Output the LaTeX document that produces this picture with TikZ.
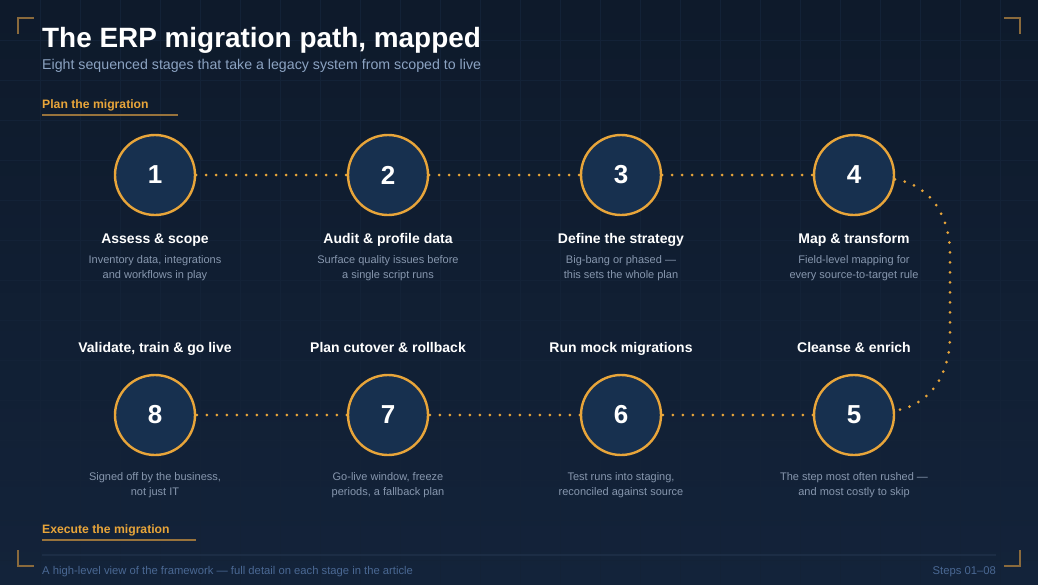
\documentclass[tikz,border=0pt]{standalone}
\usepackage{fontspec}
\setmainfont{Liberation Sans}
\definecolor{bgtop}{HTML}{0E1A2B}
\definecolor{bgbot}{HTML}{13233A}
\definecolor{gridc}{HTML}{132237}
\definecolor{ringc}{HTML}{E8A53A}
\definecolor{discc}{HTML}{17304F}
\definecolor{bracketc}{HTML}{8A6A3C}
\definecolor{subc}{HTML}{8CA3C2}
\definecolor{notec}{HTML}{8797AE}
\definecolor{footc}{HTML}{4A6893}
\definecolor{rulec}{HTML}{1C2D45}
\begin{document}
\begin{tikzpicture}[x=1pt, y=-1pt,
  stepnode/.style={circle,draw=ringc,line width=2.4pt,fill=discc,minimum size=80pt,inner sep=0pt,
    text=white,font=\fontsize{26}{26}\selectfont\bfseries},
  steptitle/.style={anchor=base,text=white,font=\fontsize{14}{16}\selectfont\bfseries},
  stepnote/.style={text=notec,align=center,font=\fontsize{11}{15}\selectfont},
  link/.style={ringc,line width=3pt,line cap=round,dash pattern=on 0pt off 10pt},
  bracket/.style={bracketc,line width=2pt},
  phase/.style={anchor=base west,text=ringc,font=\fontsize{12.2}{14}\selectfont\bfseries,inner sep=0pt}]
\useasboundingbox (0,0) rectangle (1038,584);
% background and faint grid
\shade[top color=bgtop,bottom color=bgbot] (0,0) rectangle (1038,584);
\foreach \gx in {40,80,...,1000} \draw[gridc,line width=1pt] (\gx,0) -- (\gx,584);
\foreach \gy in {40,80,...,560} \draw[gridc,line width=1pt] (0,\gy) -- (1038,\gy);
% corner brackets
\draw[bracket] (18,34) -- (18,18) -- (34,18);
\draw[bracket] (1004,18) -- (1020,18) -- (1020,34);
\draw[bracket] (18,550) -- (18,566) -- (34,566);
\draw[bracket] (1004,566) -- (1020,566) -- (1020,550);
% heading
\node[anchor=base west,inner sep=0pt,text=white,font=\fontsize{27.9}{30}\selectfont\bfseries] (title) at (42,47) {The ERP migration path, mapped};
\node[anchor=base west,inner sep=0pt,text=subc,font=\fontsize{14.2}{16}\selectfont] (subtitle) at (42,69) {Eight sequenced stages that take a legacy system from scoped to live};
\node[phase] (plan) at (42,108) {Plan the migration};
\draw[bracketc!85!ringc,line width=2pt] (42,115) -- (178,115);
% steps
\node[stepnode] (s1) at (155,175) {1};
\node[stepnode] (s2) at (388,175) {2};
\node[stepnode] (s3) at (621,175) {3};
\node[stepnode] (s4) at (854,175) {4};
\node[stepnode] (s5) at (854,415) {5};
\node[stepnode] (s6) at (621,415) {6};
\node[stepnode] (s7) at (388,415) {7};
\node[stepnode] (s8) at (155,415) {8};
\node[steptitle] (t1) at (155,243) {Assess \& scope};
\node[steptitle] (t2) at (388,243) {Audit \& profile data};
\node[steptitle] (t3) at (621,243) {Define the strategy};
\node[steptitle] (t4) at (854,243) {Map \& transform};
\node[steptitle] (t5) at (854,352) {Cleanse \& enrich};
\node[steptitle] (t6) at (621,352) {Run mock migrations};
\node[steptitle] (t7) at (388,352) {Plan cutover \& rollback};
\node[steptitle] (t8) at (155,352) {Validate, train \& go live};
\node[stepnote] (n1) at (155,268) {Inventory data, integrations\\and workflows in play};
\node[stepnote] (n2) at (388,268) {Surface quality issues before\\a single script runs};
\node[stepnote] (n3) at (621,268) {Big-bang or phased —\\this sets the whole plan};
\node[stepnote] (n4) at (854,268) {Field-level mapping for\\every source-to-target rule};
\node[stepnote] (n5) at (854,485) {The step most often rushed —\\and most costly to skip};
\node[stepnote] (n6) at (621,485) {Test runs into staging,\\reconciled against source};
\node[stepnote] (n7) at (388,485) {Go-live window, freeze\\periods, a fallback plan};
\node[stepnote] (n8) at (155,485) {Signed off by the business,\\not just IT};
% path between steps
\draw[link] (s1) -- (s2);
\draw[link] (s2) -- (s3);
\draw[link] (s3) -- (s4);
\draw[link] (s4.-6) .. controls (930,185) and (950,215) .. (950,255) -- (950,335) .. controls (950,375) and (930,405) .. (s5.6);
\draw[link] (s5) -- (s6);
\draw[link] (s6) -- (s7);
\draw[link] (s7) -- (s8);
% footer
\node[phase] (exec) at (42,533) {Execute the migration};
\draw[bracketc!85!ringc,line width=2pt] (42,540) -- (196,540);
\draw[rulec,line width=1.5pt] (42,555) -- (996,555);
\node[anchor=base west,inner sep=0pt,text=footc,font=\fontsize{11.25}{13}\selectfont] (foot) at (42,574) {A high-level view of the framework — full detail on each stage in the article};
\node[anchor=base east,inner sep=0pt,text=footc,font=\fontsize{11.25}{13}\selectfont] (count) at (996,574) {Steps 01–08};
\end{tikzpicture}
\end{document}
